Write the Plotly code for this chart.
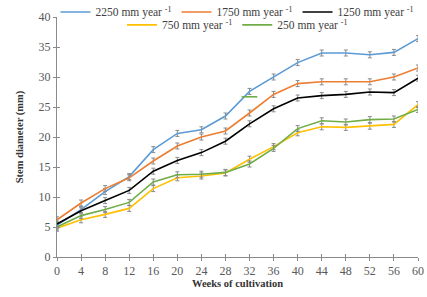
import plotly.graph_objects as go

weeks = [0, 4, 8, 12, 16, 20, 24, 28, 32, 36, 40, 44, 48, 52, 56, 60]

s2250 = [5.3, 7.9, 10.9, 13.4, 17.9, 20.6, 21.2, 23.5, 27.6, 30.0, 32.4, 34.0, 34.0, 33.7, 34.1, 36.4]
s1750 = [6.2, 9.0, 11.4, 13.2, 16.0, 18.5, 20.0, 21.0, 24.0, 27.1, 28.9, 29.2, 29.2, 29.2, 30.0, 31.5]
s1250 = [5.5, 7.7, 9.4, 11.1, 14.3, 16.1, 17.4, 19.3, 22.2, 24.7, 26.5, 26.9, 27.1, 27.5, 27.4, 29.8]
s750 = [4.8, 6.2, 7.1, 8.1, 11.4, 13.2, 13.5, 14.0, 16.3, 18.4, 20.7, 21.7, 21.6, 21.8, 22.1, 25.4]
s250 = [5.0, 6.9, 7.9, 9.1, 12.5, 13.7, 13.8, 14.1, 15.5, 18.1, 21.4, 22.7, 22.5, 22.9, 23.0, 24.6]
err = [0.5] * len(weeks)

# short stray green segment visible in the original figure
stray_x = [30.7, 33.3]
stray_y = [26.7, 26.7]

names = ["2250 mm year <sup>-1</sup>", "1750 mm year <sup>-1</sup>", "1250 mm year <sup>-1</sup>",
         "750 mm year <sup>-1</sup>", "250 mm year <sup>-1</sup>"]
series = [s2250, s1750, s1250, s750, s250]
colors = ["#5B9BD5", "#ED7D31", "#000000", "#FFC000", "#70AD47"]
legends = ["legend", "legend", "legend", "legend2", "legend2"]

FONT = "Liberation Serif"
fig = go.Figure()
order = [3, 4, 0, 1, 2]
for i in order:
    fig.add_trace(go.Scatter(
        x=weeks, y=series[i], name=names[i], mode="lines",
        line=dict(color=colors[i], width=1.6),
        error_y=dict(type="data", array=err, color="#8a8a8a", thickness=1, width=2),
        legend=legends[i], legendrank=i,
    ))
fig.add_trace(go.Scatter(x=stray_x, y=stray_y, mode="lines", line=dict(color=colors[4], width=1.6),
                         showlegend=False, hoverinfo="skip"))

axis_common = dict(showgrid=False, zeroline=False, showline=True, linecolor="#8a8a8a",
                   linewidth=1, tickcolor="#8a8a8a", ticklen=3,
                   tickfont=dict(family=FONT, size=12, color="#595959"))

LEGFONT = dict(family=FONT, size=11.5, color="#404040")
fig.update_layout(
    width=427, height=297,
    margin=dict(l=57, r=9, t=17, b=40, autoexpand=False),
    paper_bgcolor="white", plot_bgcolor="white",
    font=dict(family=FONT, size=11, color="#404040"),
    xaxis=dict(range=[0, 60], tickmode="array", tickvals=weeks, ticks="outside",
               title=dict(text="<b>Weeks of cultivation</b>", font=dict(family=FONT, size=10.5, color="#333333"), standoff=2),
               **axis_common),
    yaxis=dict(range=[0, 40], tickmode="array", tickvals=[0, 5, 10, 15, 20, 25, 30, 35, 40], ticks="outside",
               title=dict(text="<b>Stem diameter (mm)</b>", font=dict(family=FONT, size=10.5, color="#333333"), standoff=12),
               **axis_common),
    xaxis2=dict(range=[0, 60], overlaying="x", anchor="y", side="bottom", tickmode="array", tickvals=weeks,
                ticks="inside", ticklen=3, tickcolor="#8a8a8a", showticklabels=False, showgrid=False,
                zeroline=False, showline=False),
    yaxis2=dict(range=[0, 40], overlaying="y", anchor="x", side="left", tickmode="array",
                tickvals=[0, 5, 10, 15, 20, 25, 30, 35, 40], ticks="inside", ticklen=3, tickcolor="#8a8a8a",
                showticklabels=False, showgrid=False, zeroline=False, showline=False),
    legend=dict(orientation="h", x=0.5, xanchor="center", y=1.021, yanchor="middle",
                font=LEGFONT, bgcolor="rgba(0,0,0,0)",
                itemwidth=30, tracegroupgap=0, traceorder="normal"),
    legend2=dict(orientation="h", x=0.5, xanchor="center", y=0.967, yanchor="middle",
                 font=LEGFONT, bgcolor="rgba(0,0,0,0)",
                 itemwidth=30, traceorder="normal"),
    showlegend=True,
)
fig.add_trace(go.Scatter(x=[None], y=[None], xaxis="x2", yaxis="y2", showlegend=False, hoverinfo="skip"))

fig.write_html("out.html", config={"displayModeBar": False},
               post_script="document.body.style.margin='0';document.body.style.overflow='hidden';")
